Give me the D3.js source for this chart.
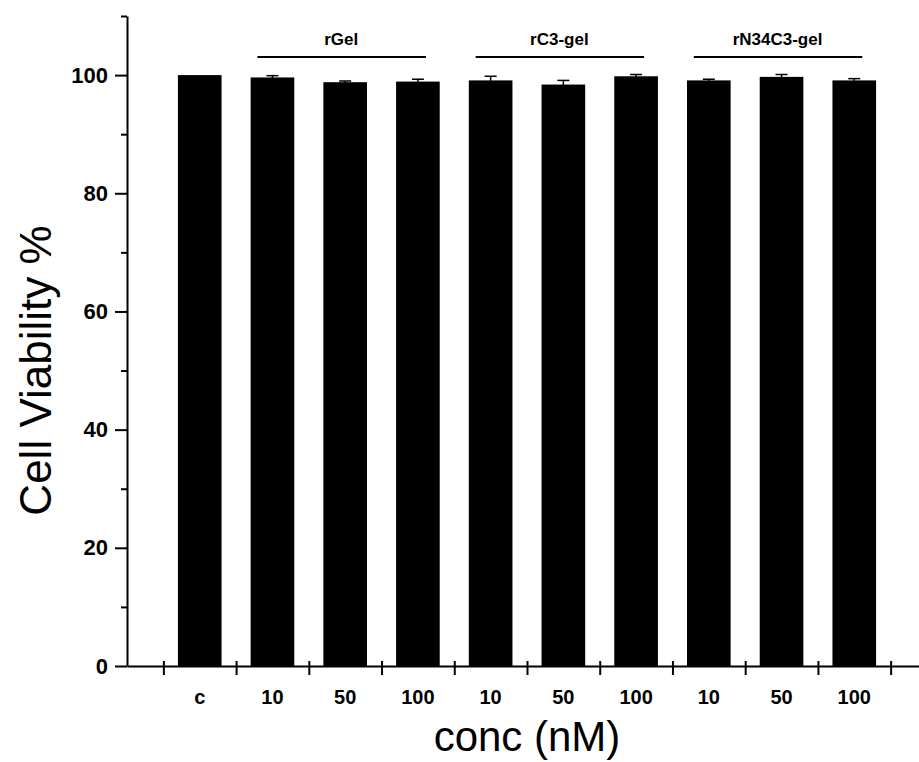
<!DOCTYPE html>
<html>
<head>
<meta charset="utf-8">
<script src="https://cdn.jsdelivr.net/npm/d3@7"></script>
<style>
  body { margin: 0; background: #fff; }
  text { font-family: "Liberation Sans", Arial, sans-serif; }
</style>
</head>
<body>
<script>
// bar data
var tickLabels = ["c", "10", "50", "100", "10", "50", "100", "10", "50", "100"];
var viability = [100, 99.6, 98.8, 98.9, 99.1, 98.4, 99.8, 99.1, 99.7, 99.1];
var errors = [0, 0.3, 0.2, 0.4, 0.7, 0.7, 0.3, 0.2, 0.4, 0.3];
var groupNames = ["rGel", "rC3-gel", "rN34C3-gel"];
var groupFirst = [1, 4, 7];
var groupLast = [3, 6, 9];
var yMajor = [0, 20, 40, 60, 80, 100];
var yMinor = [10, 30, 50, 70, 90, 110];

function drawChart() {
  var width = 919, height = 762;
  var svg = d3.select("body").append("svg")
      .attr("width", width)
      .attr("height", height);

  // category positions 1..10, axis runs from 0 to 11 (cut by the window)
  var x = d3.scaleLinear().domain([0, 11]).range([127, 927]);
  var y = d3.scaleLinear().domain([0, 110]).range([666, 16]);
  var step = x(1) - x(0);
  var bw = step * 0.6;

  var rows = viability.map(function(v, i) {
    return { pos: i + 1, v: v, e: errors[i] };
  });

  // bars
  svg.selectAll("rect.bar")
    .data(rows)
    .enter().append("rect")
      .attr("class", "bar")
      .attr("x", function(d) { return x(d.pos) - bw / 2; })
      .attr("y", function(d) { return y(d.v); })
      .attr("width", bw)
      .attr("height", function(d) { return y(0) - y(d.v); })
      .attr("fill", "#000");

  // error bars (only the upper half shows above the black bar)
  var eb = svg.selectAll("g.err")
    .data(rows.filter(function(d) { return d.e > 0; }))
    .enter().append("g")
      .attr("class", "err")
      .attr("stroke", "#000")
      .attr("stroke-width", 1.5);
  eb.append("line")
      .attr("x1", function(d) { return x(d.pos); })
      .attr("x2", function(d) { return x(d.pos); })
      .attr("y1", function(d) { return y(d.v - d.e); })
      .attr("y2", function(d) { return y(d.v + d.e); });
  eb.append("line")
      .attr("x1", function(d) { return x(d.pos) - 6; })
      .attr("x2", function(d) { return x(d.pos) + 6; })
      .attr("y1", function(d) { return y(d.v + d.e); })
      .attr("y2", function(d) { return y(d.v + d.e); });

  // y axis
  var yAxis = svg.append("g")
      .attr("transform", "translate(" + x(0) + ",0)")
      .call(d3.axisLeft(y).tickValues(yMajor).tickSize(12).tickPadding(7).tickSizeOuter(0));
  yAxis.select(".domain").attr("stroke-width", 2);
  yAxis.selectAll(".tick line").attr("stroke-width", 2);
  yAxis.selectAll(".tick text")
      .attr("font-size", 22)
      .attr("font-weight", "bold")
      .attr("font-family", "Liberation Sans, Arial, sans-serif")
      .attr("fill", "#000");

  var yMin = svg.append("g")
      .attr("transform", "translate(" + x(0) + ",0)")
      .call(d3.axisLeft(y).tickValues(yMinor).tickSize(6).tickFormat(""));
  yMin.select(".domain").remove();
  yMin.selectAll(".tick line").attr("stroke-width", 2);

  // x axis: ticks between categories
  var xTicks = d3.range(0.5, 11, 1);
  var xAxis = svg.append("g")
      .attr("transform", "translate(0," + y(0) + ")")
      .call(d3.axisBottom(x).tickValues(xTicks).tickSize(9).tickFormat("").tickSizeOuter(0));
  xAxis.select(".domain").attr("stroke-width", 2);
  xAxis.selectAll(".tick line").attr("y1", -5).attr("stroke-width", 2);

  svg.selectAll("text.xlab")
    .data(tickLabels)
    .enter().append("text")
      .attr("class", "xlab")
      .attr("x", function(d, i) { return x(i + 1); })
      .attr("y", 704)
      .attr("text-anchor", "middle")
      .attr("font-size", 20)
      .attr("font-weight", "bold")
      .text(function(d) { return d; });

  // group brackets
  groupNames.forEach(function(name, g) {
    var x1 = x(groupFirst[g] + 1) - 15;
    var x2 = x(groupLast[g] + 1) + 8;
    svg.append("line")
        .attr("x1", x1).attr("x2", x2)
        .attr("y1", 57).attr("y2", 57)
        .attr("stroke", "#000")
        .attr("stroke-width", 2);
    svg.append("text")
        .attr("x", x(groupFirst[g] + 2) - 4)
        .attr("y", 45)
        .attr("text-anchor", "middle")
        .attr("font-size", 17)
        .attr("font-weight", "bold")
        .text(name);
  });

  // axis titles
  svg.append("text")
      .attr("x", x(5.5))
      .attr("y", 751)
      .attr("text-anchor", "middle")
      .attr("font-size", 42)
      .text("conc (nM)");

  svg.append("text")
      .attr("transform", "translate(51," + y(50) + ") rotate(-90)")
      .attr("text-anchor", "middle")
      .attr("font-size", 44)
      .text("Cell Viability %");
}

drawChart();
</script>
</body>
</html>
